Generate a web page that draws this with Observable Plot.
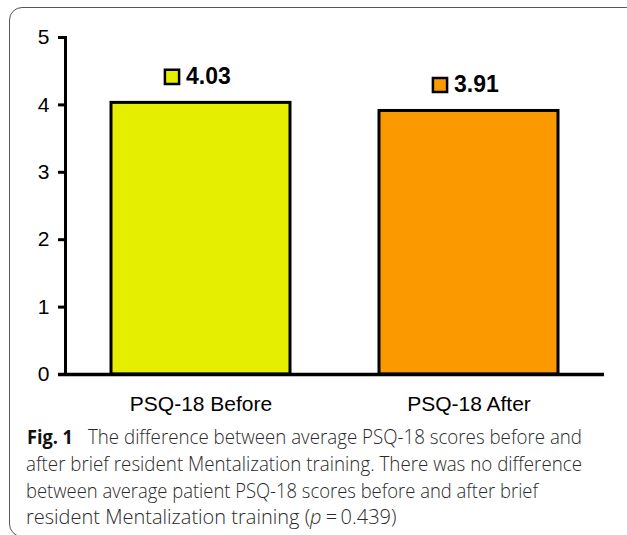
<!DOCTYPE html>
<html>
<head>
<meta charset="utf-8">
<script src="https://cdn.jsdelivr.net/npm/d3@7"></script>
<script src="https://cdn.jsdelivr.net/npm/@observablehq/plot@0.6"></script>
<style>
  html, body { margin: 0; padding: 0; background: #fff; }
  #wrap { position: relative; width: 627px; height: 535px; overflow: hidden; }
  #border { position: absolute; left: 9px; top: 7px; width: 630px; height: 530px;
            border: 1.5px solid #555; border-radius: 13px; box-sizing: border-box; }
  #chart { position: absolute; left: 0; top: 0; }
  #caption { position: absolute; left: 0; top: 420px; }
</style>
</head>
<body>
<div id="wrap">
  <div id="border"></div>
  <div id="chart"></div>
  <div id="caption"></div>
</div>
<script>
const categories = ["PSQ-18 Before", "PSQ-18 After"];
const values = [4.03, 3.91];
const valueLabels = ["4.03", "3.91"];
const barColors = ["#e6ee00", "#fa9a00"];
const yTicks = [0, 1, 2, 3, 4, 5];

const captionBold = "Fig. 1";
const captionLines = [
  "The difference between average PSQ-18 scores before and",
  "after brief resident Mentalization training. There was no difference",
  "between average patient PSQ-18 scores before and after brief"
];
const captionLast = ["resident Mentalization training (", "p", "\u2009=\u20090.439)"];

const data = categories.map((c, i) => ({cat: c, value: values[i], label: valueLabels[i], color: barColors[i]}));

const chart = Plot.plot({
  width: 627,
  height: 420,
  marginLeft: 65,
  marginRight: 23,
  marginTop: 37,
  marginBottom: 46,
  style: {fontFamily: "'Liberation Sans', Arial, sans-serif", fontSize: "20px", color: "#000", background: "transparent"},
  x: {domain: categories, paddingInner: 0.332, paddingOuter: 0.17, label: null},
  y: {domain: [0, 5], label: null},
  color: {type: "identity"},
  marks: [
    Plot.barY(data, {x: "cat", y: "value", fill: "color", stroke: "#000", strokeWidth: 3}),
    Plot.ruleY([0], {stroke: "#000", strokeWidth: 3.5, insetLeft: -7}),
    Plot.frame({anchor: "left", stroke: "#000", strokeWidth: 3}),
    Plot.axisY({ticks: yTicks, tickSize: 7, tickPadding: 9, strokeWidth: 3, fontSize: 21, label: null, tickFormat: d => String(d)}),
    Plot.axisX({tickSize: 0, tickPadding: 22, fontSize: 21, label: null}),
    Plot.dot(data, {x: "cat", y: "value", symbol: "square", r: 8, fill: "color", stroke: "#000", strokeWidth: 2.5, dx: -29, dy: -26}),
    Plot.text(data, {x: "cat", y: "value", text: "label", textAnchor: "start", dx: -15, dy: -26, fontWeight: "bold", fontSize: 23, fill: "#000"})
  ]
});
document.getElementById("chart").appendChild(chart);

// caption
const cap = d3.select("#caption").append("svg").attr("width", 627).attr("height", 115)
  .style("font-family", "'Open Sans', sans-serif").style("font-size", "20px").attr("fill", "#2a2a2a");
const baselines = [24, 51, 78, 104];
const ends = [582, 582, 538];
cap.append("text").attr("x", 27).attr("y", baselines[0]).attr("font-weight", "bold").attr("fill", "#111")
  .attr("textLength", 46).attr("lengthAdjust", "spacingAndGlyphs").text(captionBold);
cap.append("text").attr("x", 88).attr("y", baselines[0]).attr("font-weight", 300)
  .attr("textLength", ends[0] - 88).attr("lengthAdjust", "spacingAndGlyphs").text(captionLines[0]);
for (let i = 1; i < 3; i++) {
  cap.append("text").attr("x", 26).attr("y", baselines[i]).attr("font-weight", 300)
    .attr("textLength", ends[i] - 26).attr("lengthAdjust", "spacingAndGlyphs").text(captionLines[i]);
}
// last line: segments placed one after another at their natural widths
let xpos = 26;
captionLast.forEach((seg, i) => {
  const t = cap.append("text").attr("x", xpos).attr("y", baselines[3]).attr("font-weight", 300)
    .attr("font-style", i === 1 ? "italic" : "normal").text(seg);
  xpos += t.node().getComputedTextLength() + (i === 1 ? 1 : 0);
});
</script>
</body>
</html>
